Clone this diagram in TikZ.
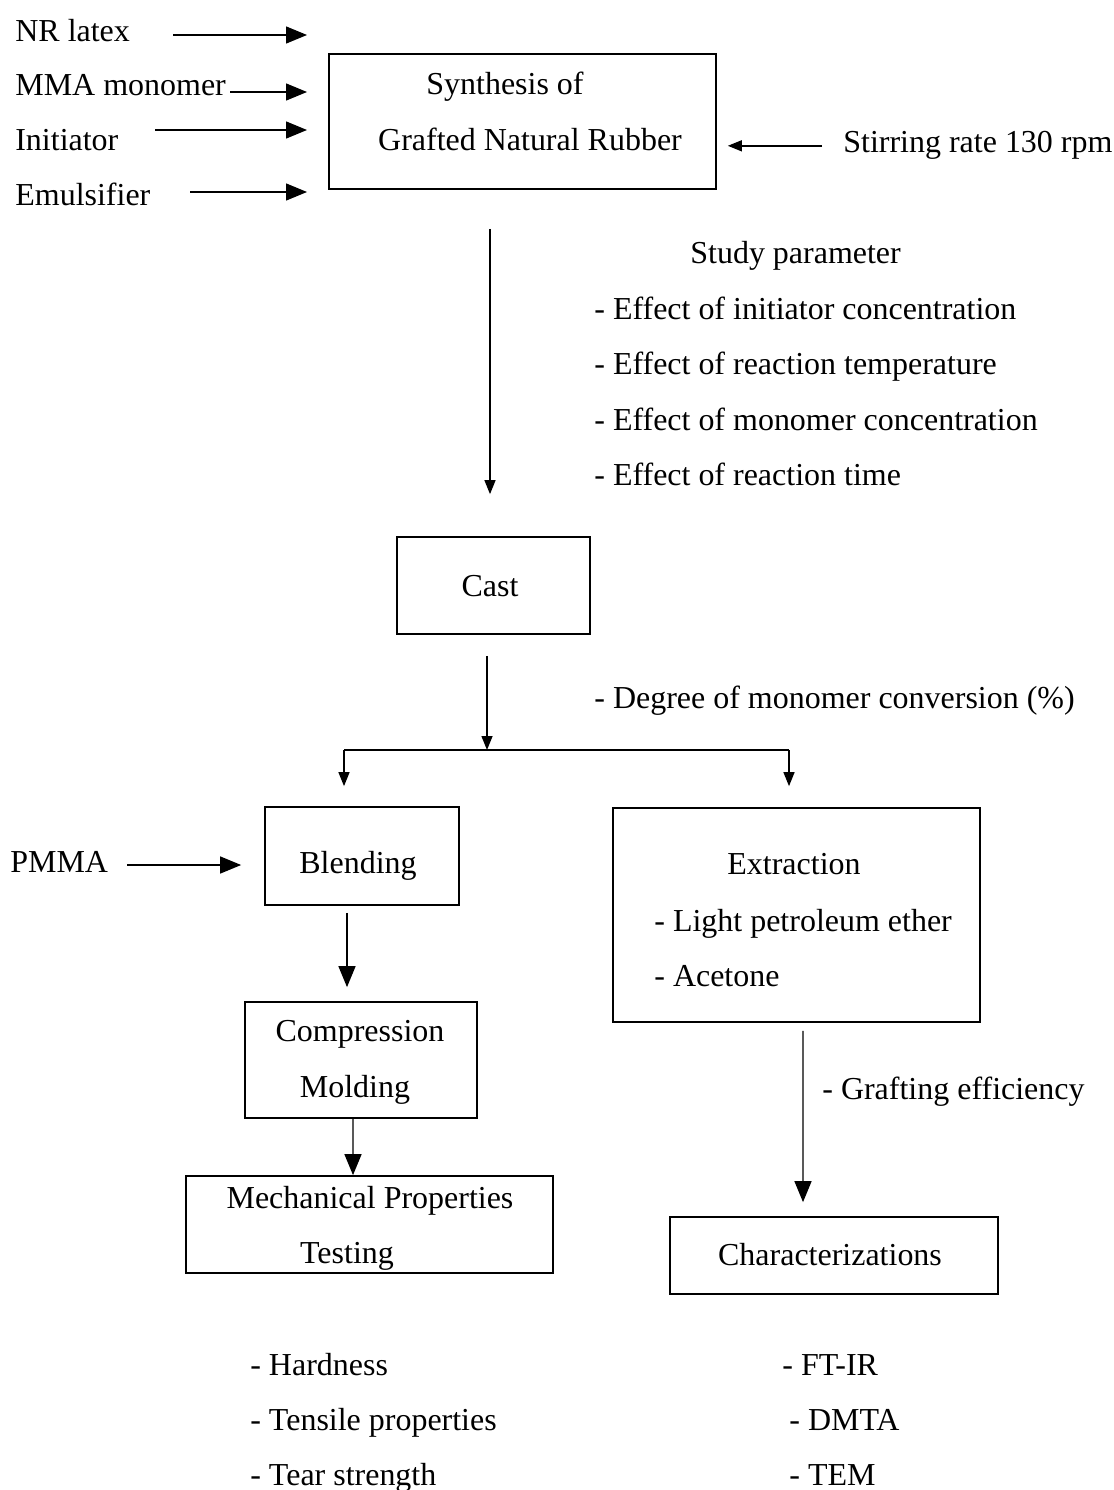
\documentclass[tikz,border=0pt]{standalone}
\usepackage{fontspec}
\setmainfont{Liberation Serif}
\usetikzlibrary{arrows.meta,positioning}

\begin{document}
\begin{tikzpicture}[x=0.02cm,y=-0.02cm,
    font=\fontsize{18.2}{31.9}\selectfont,
    box/.style={draw,line width=1pt,inner sep=0pt},
    lbl/.style={anchor=base,inner sep=0pt},
    txt/.style={anchor=base west,inner sep=0pt},
    flow/.style={line width=0.8pt,-{Triangle[length=0.42cm,width=0.34cm]}},
    small flow/.style={line width=0.8pt,-{Triangle[length=0.28cm,width=0.22cm]}}]
    \useasboundingbox (0,0) rectangle (1114,1490);

    % boxes
    \node[box,minimum width=7.74cm,minimum height=2.7cm] (syn) at (522.5,121.5) {};
    \node[lbl] (syn-1) at (505,95) {Synthesis of};
    \node[lbl] (syn-2) at (530,151) {Grafted Natural Rubber};
    \node[box,minimum width=3.86cm,minimum height=1.94cm] (cast) at (493.5,585.5) {};
    \node[lbl] (cast-1) at (490,596) {Cast};
    \node[box,minimum width=3.88cm,minimum height=1.96cm] (blend) at (362,856) {};
    \node[lbl] (blend-1) at (358,873) {Blending};
    \node[box,minimum width=4.64cm,minimum height=2.32cm] (comp) at (361,1060) {};
    \node[lbl] (comp-1) at (360,1041) {Compression};
    \node[lbl] (comp-2) at (355,1097) {Molding};
    \node[box,minimum width=7.34cm,minimum height=1.94cm] (mech) at (369.5,1224.5) {};
    \node[lbl] (mech-1) at (370,1208) {Mechanical Properties};
    \node[lbl] (mech-2) at (347,1263) {Testing};
    \node[box,minimum width=7.34cm,minimum height=4.28cm] (extr) at (796.5,915) {};
    \node[lbl] (extr-1) at (794,874) {Extraction};
    \node[txt] (extr-2) at (654,931) {- Light petroleum ether};
    \node[txt] (extr-3) at (654,986) {- Acetone};
    \node[box,minimum width=6.56cm,minimum height=1.54cm] (chars) at (834,1255.5) {};
    \node[lbl] (chars-1) at (830,1265) {Characterizations};

    % inputs
    \node[txt] (nr) at (15,42) {NR latex};
    \node[txt] (mma) at (15,96) {MMA monomer};
    \node[txt] (ini) at (15,151) {Initiator};
    \node[txt] (emu) at (15,206) {Emulsifier};
    \coordinate (nr-a) at (173,35);
    \coordinate (mma-a) at (230,92);
    \coordinate (ini-a) at (155,130);
    \coordinate (emu-a) at (190,192);
    \coordinate (in-x) at (307,0);
    \draw[flow] (nr-a) -- (in-x |- nr-a);
    \draw[flow] (mma-a) -- (in-x |- mma-a);
    \draw[flow] (ini-a) -- (in-x |- ini-a);
    \draw[flow] (emu-a) -- (in-x |- emu-a);

    \node[txt] (stir) at (843,153) {Stirring rate 130 rpm};
    \draw[small flow] ([xshift=-0.42cm]stir.west) -- ([xshift=0.22cm]syn.east |- stir.west);

    % study parameters
    \node[txt] (study) at (690,263) {Study parameter};
    \node[txt] (eff1) at (594,319) {- Effect of initiator concentration};
    \node[txt] (eff2) at (594,374) {- Effect of reaction temperature};
    \node[txt] (eff3) at (594,430) {- Effect of monomer concentration};
    \node[txt] (eff4) at (594,485) {- Effect of reaction time};
    \coordinate (down-x) at (490,0);
    \draw[small flow] ([yshift=-0.78cm]syn.south -| down-x) -- ([yshift=0.84cm]cast.north -| down-x);

    % split after cast
    \node[txt] (degree) at (594,708) {- Degree of monomer conversion (\%)};
    \coordinate (split) at (487,750);
    \coordinate (bl) at (344,750);
    \coordinate (br) at (789,750);
    \draw[small flow] ([yshift=-0.42cm]cast.south -| split) -- (split);
    \draw[line width=0.8pt] (bl) -- (br);
    \draw[small flow] (bl) -- ([yshift=0.4cm]blend.north -| bl);
    \draw[small flow] (br) -- ([yshift=0.42cm]extr.north -| br);

    % left branch
    \node[txt] (pmma) at (10,872) {PMMA};
    \coordinate (pmma-a) at (127,865);
    \draw[flow] (pmma-a) -- ([xshift=-0.46cm]blend.west |- pmma-a);
    \draw[flow] ([xshift=-0.3cm,yshift=-0.14cm]blend.south) -- ([xshift=-0.28cm,yshift=0.28cm]comp.north);
    \draw[flow] ([xshift=-0.16cm]comp.south) -- ([xshift=-0.33cm]mech.north);

    % right branch
    \node[txt] (graft) at (822,1099) {- Grafting efficiency};
    \draw[flow] ([xshift=0.13cm,yshift=-0.16cm]extr.south) -- ([xshift=-0.62cm,yshift=0.28cm]chars.north);

    % results
    \node[txt] (hard) at (250,1375) {- Hardness};
    \node[txt] (tens) at (250,1430) {- Tensile properties};
    \node[txt] (tear) at (250,1485) {- Tear strength};
    \node[txt] (ftir) at (782,1375) {- FT-IR};
    \node[txt] (dmta) at (789,1430) {- DMTA};
    \node[txt] (tem) at (789,1485) {- TEM};
\end{tikzpicture}
\end{document}
